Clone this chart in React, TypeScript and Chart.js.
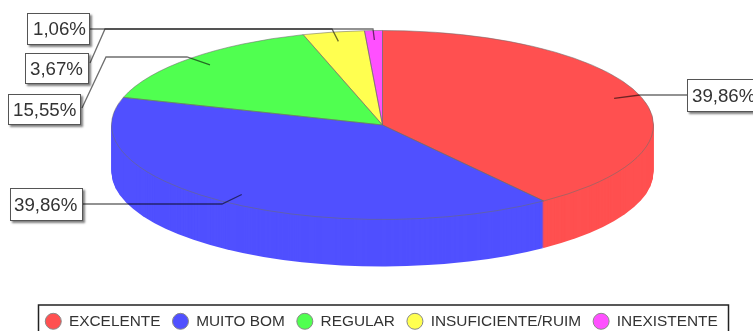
import React, { useEffect, useRef } from "react";
import { Chart, registerables } from "chart.js";

Chart.register(...registerables);

const categories = ["EXCELENTE", "MUITO BOM", "REGULAR", "INSUFICIENTE/RUIM", "INEXISTENTE"];
const shares = [39.86, 39.86, 15.55, 3.67, 1.06];
const sliceColors = ["#FF5050", "#5050FF", "#50FF50", "#FFFF50", "#FF50FF"];

// Flattened disc geometry on the canvas
const DISC = { cx: 382.5, cy: 125, rx: 271, ry: 94.5, depth: 47 };

// Callout placement for each slice: label box, text inset and the leader's elbow points
const callouts = [
  { box: [687, 79, 80, 33], inset: 5, route: [[640, 95], [687, 95]] },
  { box: [10, 188, 73, 33], inset: 4, route: [[222, 204], [83, 204]] },
  { box: [8, 94, 73, 31], inset: 5, route: [[187, 57], [106, 57], [82, 108]] },
  { box: [25, 53, 64, 31], inset: 5, route: [[332, 29], [105, 29], [90, 63]] },
  { box: [27, 13, 63, 32], inset: 6, route: [[373, 29], [90, 29]] },
];

const formatShare = (v: number) => v.toFixed(2).replace(".", ",") + "%";

const disc3d = {
  id: "disc3d",
  beforeDatasetsDraw(chart: any) {
    const arcs = chart.getDatasetMeta(0).data;
    const { x, y, outerRadius } = arcs[0];
    const ctx = chart.ctx;
    const place = (offset: number) => {
      ctx.translate(DISC.cx, DISC.cy + offset);
      ctx.scale(DISC.rx / outerRadius, DISC.ry / outerRadius);
      ctx.translate(-x, -y);
    };
    // Side wall: the slices stacked from the bottom of the disc upward
    for (let d = DISC.depth; d >= 1; d--) {
      ctx.save();
      place(d);
      arcs.forEach((a: any) => a.draw(ctx));
      ctx.restore();
    }
    ctx.save();
    place(0);
  },
  afterDatasetsDraw(chart: any) {
    const ctx = chart.ctx;
    ctx.restore();
    const arcs = chart.getDatasetMeta(0).data;

    // Thin slice outlines on the top face
    ctx.save();
    ctx.strokeStyle = "rgba(110,110,110,0.55)";
    ctx.lineWidth = 1;
    arcs.forEach((a: any) => {
      ctx.beginPath();
      ctx.moveTo(DISC.cx, DISC.cy);
      ctx.ellipse(DISC.cx, DISC.cy, DISC.rx, DISC.ry, 0, a.startAngle, a.endAngle);
      ctx.closePath();
      ctx.stroke();
    });
    ctx.restore();

    // Leader lines, darkened where they cross the disc
    ctx.save();
    ctx.globalCompositeOperation = "multiply";
    ctx.strokeStyle = "#6e6e6e";
    ctx.lineWidth = 1.3;
    arcs.forEach((a: any, i: number) => {
      const mid = (a.startAngle + a.endAngle) / 2;
      ctx.beginPath();
      ctx.moveTo(DISC.cx + 0.9 * DISC.rx * Math.cos(mid), DISC.cy + 0.9 * DISC.ry * Math.sin(mid));
      callouts[i].route.forEach(([px, py]) => ctx.lineTo(px, py));
      ctx.stroke();
    });
    ctx.restore();

    // Value boxes
    ctx.save();
    ctx.font = '18.7px "Liberation Sans"';
    ctx.textBaseline = "middle";
    shares.forEach((v, i) => {
      const [bx, by, bw, bh] = callouts[i].box;
      ctx.save();
      ctx.shadowColor = "rgba(0,0,0,0.5)";
      ctx.shadowBlur = 2;
      ctx.shadowOffsetX = 2;
      ctx.shadowOffsetY = 2;
      ctx.fillStyle = "#ffffff";
      ctx.fillRect(bx, by, bw, bh);
      ctx.restore();
      ctx.strokeStyle = "#555555";
      ctx.lineWidth = 1;
      ctx.strokeRect(bx + 0.5, by + 0.5, bw - 1, bh - 1);
      ctx.fillStyle = "#333333";
      ctx.fillText(formatShare(v), bx + callouts[i].inset, by + bh / 2 + 1);
    });
    ctx.restore();
  },
  afterDraw(chart: any) {
    // Frame round the legend, running off the bottom of the canvas
    const ctx = chart.ctx;
    ctx.save();
    ctx.strokeStyle = "#222222";
    ctx.lineWidth = 1.5;
    ctx.strokeRect(38.5, 305, 690, 30);
    ctx.restore();
  },
};

export default function App() {
  const ref = useRef<HTMLCanvasElement>(null);
  useEffect(() => {
    document.body.style.margin = "0";
    const baseLabels = (Chart as any).overrides.pie.plugins.legend.labels.generateLabels;
    const chart = new Chart(ref.current as HTMLCanvasElement, {
      type: "pie",
      data: {
        labels: categories,
        datasets: [{ data: shares, backgroundColor: sliceColors, borderWidth: 0, clip: false } as any],
      },
      options: {
        animation: false,
        responsive: false,
        layout: { padding: { left: 10, bottom: -8 } },
        plugins: {
          tooltip: { enabled: false },
          legend: {
            position: "bottom",
            labels: {
              usePointStyle: true,
              pointStyleWidth: 16,
              boxHeight: 11.3,
              padding: 12,
              color: "#333333",
              font: { family: '"Liberation Sans"', size: 15.4 },
              generateLabels: (c: any) =>
                baseLabels(c).map((l: any) => ({ ...l, lineWidth: 1, strokeStyle: "#888888", pointStyle: "circle", fontColor: "#333333" })),
            },
          },
        },
      } as any,
      plugins: [disc3d as any],
    });
    return () => chart.destroy();
  }, []);
  return (
    <div style={{ width: 753, height: 331, overflow: "hidden", background: "#fff" }}>
      <canvas ref={ref} width={753} height={331} style={{ display: "block" }} />
    </div>
  );
}
